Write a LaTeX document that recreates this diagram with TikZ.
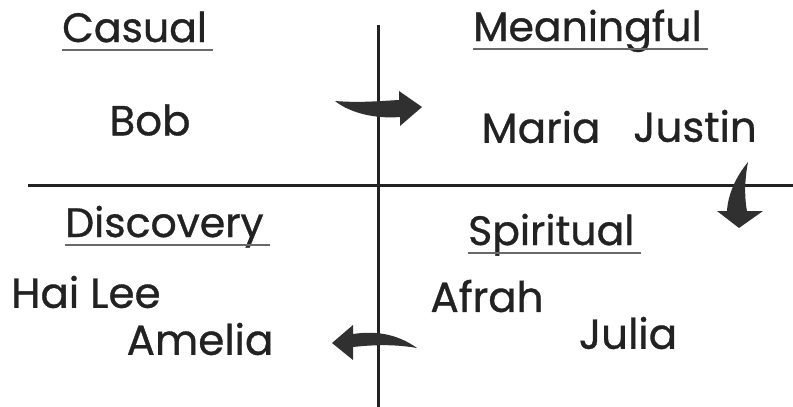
\documentclass[tikz,border=0pt]{standalone}
\usepackage{fontspec}
\newfontfamily\handfont[FakeBold=0.8]{Poppins}
\usetikzlibrary{positioning}
\definecolor{quadink}{RGB}{34,34,34}
\definecolor{quadgrey}{RGB}{105,105,105}
\definecolor{quadarrow}{RGB}{48,48,48}

\begin{document}
\begin{tikzpicture}[
      x=1pt, y=-1pt,
      axis/.style={line width=3pt, draw=quadink},
      heading/.style={font=\handfont\fontsize{41}{41}\selectfont, text=quadink,
        anchor=base west, inner sep=0pt, text depth=0pt},
      person/.style={font=\handfont\fontsize{42}{42}\selectfont, text=quadink, inner sep=0pt},
      underl/.style={line width=1.4pt, draw=quadgrey},
      turn/.style={fill=quadarrow},
    ]
    \fill[white] (0,0) rectangle (793,407);
    \useasboundingbox (0,0) rectangle (793,407);

    % axes
    \coordinate (vtop) at (378,25);
    \coordinate (vbot) at (378,407);
    \coordinate (hleft) at (28,185);
    \coordinate (hright) at (793,185);
    \draw[axis] (vtop) -- (vbot);
    \draw[axis] (hleft) -- (hright);

    % quadrant headings
    \node[heading] (casual) at (62,42) {Casual};
    \node[heading] (meaningful) at (473,41) {Meaningful};
    \node[heading] (discovery) at (65,237) {Discovery};
    \node[heading] (spiritual) at (468,245) {Spiritual};
    \foreach \h in {casual,meaningful,discovery,spiritual}
      \draw[underl] ([yshift=-8pt]\h.base west) -- ([yshift=-8pt,xshift=6pt]\h.base east);

    % people
    \node[person] (bob) at (150,120) {Bob};
    \node[person] (maria) at (541,127) {Maria};
    \node[person] (justin) at (695,126) {Justin};
    \node[person] (hailee) at (86,292) {Hai Lee};
    \node[person] (amelia) at (200,339) {Amelia};
    \node[person] (afrah) at (487,296) {Afrah};
    \node[person] (julia) at (628,333) {Julia};

    % turning arrows
    \fill[turn] (335,101) .. controls (360,103) and (380,101) .. (399,100)
      -- (399,91) -- (422,107) -- (400,126) -- (400,117)
      .. controls (375,119) and (350,113) .. cycle;
    \fill[turn] (748,162) .. controls (735,178) and (728,195) .. (727,211)
      -- (717,211) -- (739,228) -- (763,211) -- (747,211)
      .. controls (744,195) and (745,178) .. cycle;
    \fill[turn] (417,348) .. controls (400,336) and (380,330) .. (353,334)
      -- (353,325) -- (332,343) -- (353,360) -- (353,347)
      .. controls (380,344) and (400,345) .. cycle;
  \end{tikzpicture}
\end{document}
